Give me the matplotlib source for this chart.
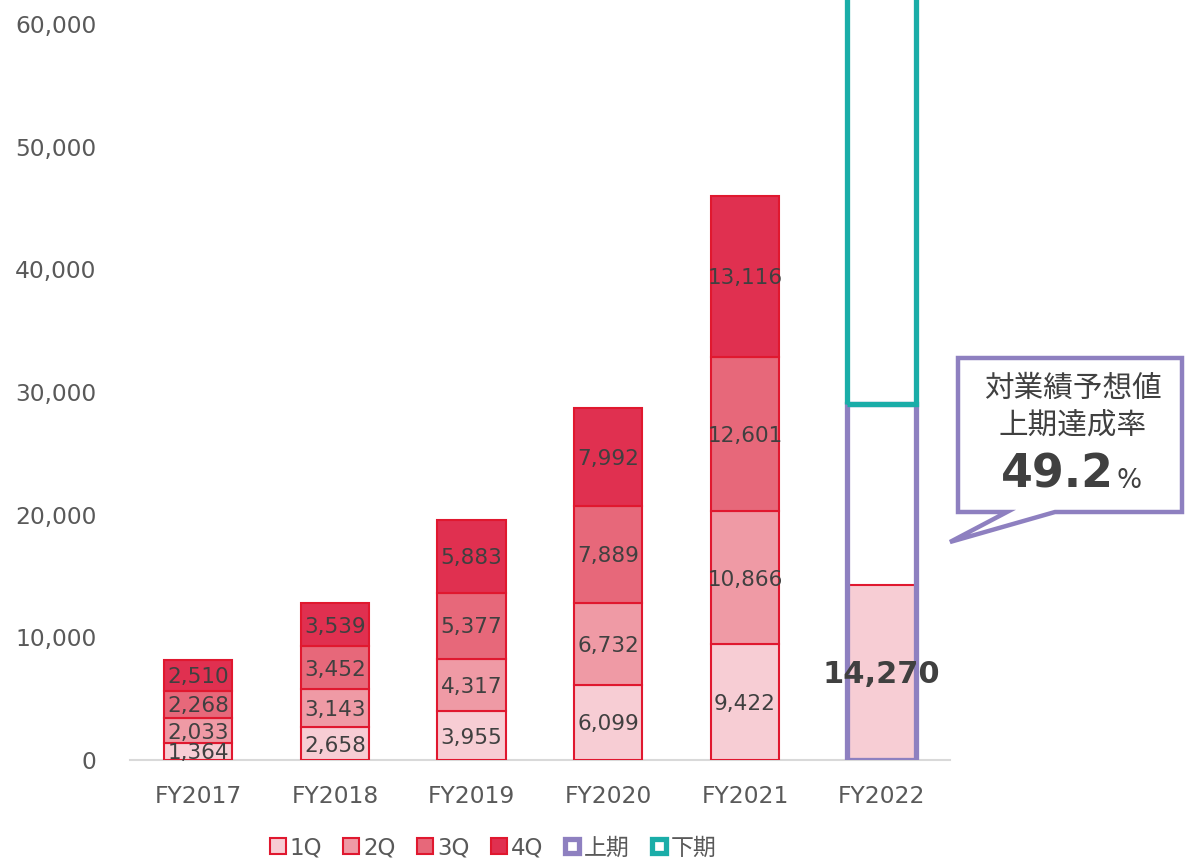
import matplotlib
matplotlib.use("Agg")
import matplotlib.pyplot as plt
from matplotlib.patches import Polygon
from matplotlib.lines import Line2D
import numpy as np

plt.rcParams['font.family'] = ['DejaVu Sans', 'Noto Sans CJK JP']

# ---- data ----
years = ["FY2017", "FY2018", "FY2019", "FY2020", "FY2021"]
q1 = [1364, 2658, 3955, 6099, 9422]
q2 = [2033, 3143, 4317, 6732, 10866]
q3 = [2268, 3452, 5377, 7889, 12601]
q4 = [2510, 3539, 5883, 7992, 13116]
fy2022_label = "FY2022"
fy2022_h1_actual = 14270
fy2022_h1_forecast = 29000
fy2022_h2_forecast = 35000  # extends beyond visible range
series_names = ["1Q", "2Q", "3Q", "4Q", "上期", "下期"]

# ---- style ----
c_q = ["#F7CDD4", "#EF9AA5", "#E7687A", "#E03050"]
c_edge = "#E0182F"
c_h1 = "#8E80C0"
c_h2 = "#1AADA8"
c_text = "#404040"
c_tick = "#595959"

W, H = 1186, 861
fig = plt.figure(figsize=(W / 100, H / 100), dpi=100)
ax = fig.add_axes([130 / W, 1 - 760 / H, (950 - 130) / W, 760 / H])

x = np.arange(len(years) + 1)
bw = 0.5
bottom = np.zeros(len(years))
for vals, col in zip([q1, q2, q3, q4], c_q):
    vals = np.array(vals)
    ax.bar(x[:-1], vals, bottom=bottom, width=bw, color=col, edgecolor=c_edge,
           linewidth=1.5, zorder=3)
    for xi, b, v in zip(x[:-1], bottom, vals):
        ax.text(xi, b + v / 2 - 150, f"{v:,}", ha='center', va='center',
                fontsize=15.5, color=c_text, zorder=5)
    bottom = bottom + vals

# FY2022
ax.bar(x[-1], fy2022_h1_actual, width=bw, color=c_q[0], edgecolor=c_edge,
       linewidth=1.5, zorder=3)
ax.bar(x[-1], fy2022_h1_forecast, width=bw, fill=False, edgecolor=c_h1,
       linewidth=3.8, zorder=4)
ax.bar(x[-1], fy2022_h2_forecast, bottom=fy2022_h1_forecast, width=bw,
       fill=False, edgecolor=c_h2, linewidth=3.8, zorder=4)
ax.text(x[-1], fy2022_h1_actual / 2 - 200, f"{fy2022_h1_actual:,}", ha='center',
        va='center', fontsize=22, fontweight='bold', color=c_text, zorder=6)

ax.set_xlim(-0.5, len(x) - 0.5)
ax.set_ylim(0, 61957)
ax.set_xticks(x)
ax.set_xticklabels(years + [fy2022_label])
ax.set_yticks(np.arange(0, 60001, 10000))
ax.set_yticklabels([f"{v:,}" for v in range(0, 60001, 10000)])
ax.tick_params(axis='both', length=0, labelsize=16.8, labelcolor=c_tick)
ax.tick_params(axis='y', pad=24)
ax.tick_params(axis='x', pad=18)
for s in ['top', 'right', 'left']:
    ax.spines[s].set_visible(False)
ax.spines['bottom'].set_color('#D9D9D9')
ax.spines['bottom'].set_linewidth(1.5)
ax.spines['bottom'].set_zorder(2)

# ---- callout ----
pts_px = [(958, 358), (1182, 358), (1182, 512), (1055, 512), (950, 542),
          (1007, 512), (958, 512)]
pts = [(px / W, 1 - py / H) for px, py in pts_px]
fig.patches.append(Polygon(pts, closed=True, facecolor='white', edgecolor=c_h1,
                           linewidth=3.2, transform=fig.transFigure,
                           joinstyle='miter', zorder=10))
rate = fy2022_h1_actual / fy2022_h1_forecast * 100
cx = 1073 / W
fig.text(cx, 1 - 388 / H, "対業績予想値", ha='center', va='center', fontsize=21.3,
         color=c_text, family=['Noto Sans CJK JP'], zorder=11)
fig.text(cx, 1 - 425 / H, "上期達成率", ha='center', va='center', fontsize=21.3,
         color=c_text, family=['Noto Sans CJK JP'], zorder=11)
fig.text(1114 / W, 1 - 488 / H, f"{rate:.1f}", ha='right', va='baseline',
         fontsize=33, fontweight='bold', color=c_text, zorder=11)
fig.text(1116 / W, 1 - 488 / H, "%", ha='left', va='baseline',
         fontsize=19, color=c_text, zorder=11)

# ---- legend ----
handles = []
for col in c_q:
    handles.append(Line2D([], [], linestyle='none', marker='s', markersize=11,
                          markerfacecolor=col, markeredgecolor=c_edge,
                          markeredgewidth=1.5))
for col in [c_h1, c_h2]:
    handles.append(Line2D([], [], linestyle='none', marker='s', markersize=10,
                          markerfacecolor='white', markeredgecolor=col,
                          markeredgewidth=3.8))
fig.legend(handles, series_names, loc='center', ncol=6,
           bbox_to_anchor=(493 / W, 1 - 848 / H), frameon=False,
           fontsize=16.5, labelcolor=c_tick, handlelength=0.75,
           handletextpad=0.15, columnspacing=0.9, borderaxespad=0)

fig.savefig("out.png", dpi=100)
